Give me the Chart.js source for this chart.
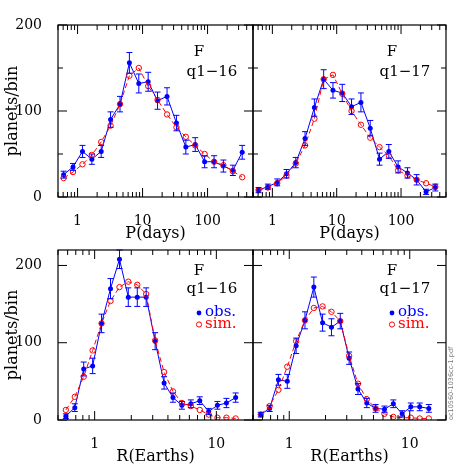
<!DOCTYPE html>
<html>
<head>
<meta charset="utf-8">
<script src="https://cdn.jsdelivr.net/npm/chart.js@4.4.0/dist/chart.umd.min.js"></script>
<style>
html, body { margin: 0; padding: 0; background: #fff; }
#wrap { position: relative; width: 471px; height: 471px; }
#wrap canvas { position: absolute; left: 0; top: 0; }
</style>
</head>
<body>
<div id="wrap">
  <canvas id="pTop16" width="471" height="471"></canvas>
  <canvas id="pTop17" width="471" height="471"></canvas>
  <canvas id="rBot16" width="471" height="471"></canvas>
  <canvas id="rBot17" width="471" height="471"></canvas>
</div>
<script>
// bin centres
const periodBins = [0.61, 0.851, 1.19, 1.66, 2.31, 3.22, 4.50, 6.27, 8.75, 12.2, 17.0, 23.8, 33.2, 46.3, 64.6, 90.1, 126, 175, 245, 341];
const radiusBins = [0.58, 0.687, 0.813, 0.963, 1.14, 1.35, 1.60, 1.89, 2.24, 2.65, 3.14, 3.72, 4.40, 5.21, 6.17, 7.31, 8.65, 10.2, 12.1, 14.4];

// period distribution, q1-16
const obsP16 = [26, 35, 53, 44, 53, 90, 108, 156, 132, 134, 112, 117, 86, 58, 61, 41, 41, 36, 31, 52];
const errP16 = [4, 4, 7, 6, 7, 9, 9, 12, 11, 11, 10, 10, 9, 8, 8, 7, 7, 7, 6, 8];
const simP16 = [22, 29, 38, 49, 64, 83, 108, 141, 150, 129, 113, 96, 81, 70, 60, 50, 41, 37, 30, 23];

// period distribution, q1-17
const obsP17 = [8, 12, 17, 27, 40, 68, 104, 137, 124, 121, 105, 110, 80, 44, 53, 35, 28, 20, 6, 11];
const errP17 = [3, 3, 4, 5, 6, 8, 10, 11, 9, 10, 9, 11, 9, 7, 8, 7, 6, 6, 3, 4];
const simP17 = [8, 11, 16, 25, 39, 60, 91, 137, 142, 120, 100, 84, 69, 58, 48, 31, 25, 20, 16, 12];

// radius distribution, q1-16
const obsR16 = [5, 16, 66, 70, 125, 170, 208, 159, 159, 159, 102, 48, 29, 19, 21, 25, 11, 19, 22, 29];
const errR16 = [3, 5, 9, 10, 12, 13, 12, 12, 12, 12, 11, 8, 6, 5, 5, 5, 4, 5, 6, 6];
const simR16 = [13, 30, 56, 90, 125, 154, 172, 179, 175, 163, 103, 62, 37, 22, 18, 13, 7, 3, 3, 2];

// radius distribution, q1-17
const obsR17 = [7, 15, 52, 50, 96, 129, 172, 126, 120, 128, 80, 40, 22, 15, 14, 21, 8, 17, 17, 15];
const errR17 = [3, 4, 7, 9, 10, 11, 13, 11, 11, 10, 8, 7, 6, 5, 4, 5, 4, 5, 5, 5];
const simR17 = [7, 18, 39, 69, 102, 129, 145, 147, 140, 128, 83, 47, 27, 15, 8, 4, 3, 3, 2, 2];

const periodTicks = [1, 10, 100];
const radiusTicks = [1, 10];
const countTicks = [0, 100, 200];

const FONT = "'DejaVu Serif', serif";
const BLUE = '#0000ff';
const RED = '#ff0000';

// frame, inward ticks, error bars and the panel texts
const panelDecor = {
  id: 'panelDecor',
  afterDatasetsDraw(chart) {
    const {ctx, scales: {x, y}} = chart;
    chart.data.datasets.forEach(ds => {
      if (!ds.errorBars) return;
      ctx.save();
      ctx.strokeStyle = ds.borderColor;
      ctx.lineWidth = 1;
      ds.data.forEach((p, i) => {
        const e = ds.errorBars[i];
        const px = x.getPixelForValue(p.x);
        const y1 = y.getPixelForValue(p.y - e);
        const y2 = y.getPixelForValue(p.y + e);
        ctx.beginPath();
        ctx.moveTo(px, y1); ctx.lineTo(px, y2);
        ctx.moveTo(px - 3, y1); ctx.lineTo(px + 3, y1);
        ctx.moveTo(px - 3, y2); ctx.lineTo(px + 3, y2);
        ctx.stroke();
      });
      ctx.restore();
    });
  },
  afterDraw(chart, args, opts) {
    const {ctx, chartArea: a, scales: {x, y}} = chart;
    ctx.save();
    ctx.strokeStyle = '#000';
    ctx.lineWidth = 1.2;
    ctx.strokeRect(a.left, a.top, a.right - a.left, a.bottom - a.top);

    ctx.lineWidth = 1;
    ctx.beginPath();
    // log x ticks, major at decades
    const e0 = Math.floor(Math.log10(x.min)), e1 = Math.ceil(Math.log10(x.max));
    for (let e = e0; e <= e1; e++) {
      for (let m = 1; m < 10; m++) {
        const v = m * Math.pow(10, e);
        if (v < x.min || v > x.max) continue;
        const px = x.getPixelForValue(v);
        const len = m === 1 ? 9 : 5;
        ctx.moveTo(px, a.bottom); ctx.lineTo(px, a.bottom - len);
        ctx.moveTo(px, a.top); ctx.lineTo(px, a.top + len);
      }
    }
    // y ticks
    for (let v = 0; v <= y.max; v += opts.yStep) {
      const py = y.getPixelForValue(v);
      const len = v % 100 === 0 ? 9 : 5;
      ctx.moveTo(a.left, py); ctx.lineTo(a.left + len, py);
      ctx.moveTo(a.right, py); ctx.lineTo(a.right - len, py);
    }
    ctx.stroke();

    // panel labels
    ctx.fillStyle = '#000';
    ctx.textBaseline = 'middle';
    ctx.textAlign = 'center';
    ctx.font = '15px ' + FONT;
    ctx.fillText('F', a.right - 54, a.top + opts.fY);
    ctx.fillText(opts.label, a.right - 41, a.top + opts.qY);

    if (opts.legend) {
      ctx.textAlign = 'left';
      ctx.fillStyle = BLUE;
      ctx.beginPath();
      ctx.arc(a.right - 54, a.top + 63, 2.4, 0, Math.PI * 2);
      ctx.fill();
      ctx.fillText('obs.', a.right - 48, a.top + 62);
      ctx.strokeStyle = RED;
      ctx.beginPath();
      ctx.arc(a.right - 54, a.top + 74.5, 2.6, 0, Math.PI * 2);
      ctx.stroke();
      ctx.fillStyle = RED;
      ctx.fillText('sim.', a.right - 48, a.top + 74);
    }
    if (opts.stamp) {
      ctx.save();
      ctx.translate(a.right + 5, a.bottom);
      ctx.rotate(-Math.PI / 2);
      ctx.fillStyle = '#777';
      ctx.font = "6.5px 'DejaVu Sans', sans-serif";
      ctx.textAlign = 'left';
      ctx.fillText(opts.stamp, 0, 0);
      ctx.restore();
    }
    ctx.restore();
  }
};

function makePanel(id, p) {
  const obsPts = p.bins.map((b, i) => ({x: b, y: p.obs[i]}));
  const simPts = p.bins.map((b, i) => ({x: b, y: p.sim[i]}));
  return new Chart(document.getElementById(id), {
    type: 'scatter',
    data: {
      datasets: [
        {
          label: 'sim.',
          data: simPts,
          showLine: true,
          borderColor: RED,
          borderWidth: 1,
          borderDash: [5, 3],
          pointRadius: 2.7,
          pointBorderWidth: 1,
          pointBorderColor: RED,
          pointBackgroundColor: 'rgba(0,0,0,0)'
        },
        {
          label: 'obs.',
          data: obsPts,
          errorBars: p.err,
          showLine: true,
          borderColor: BLUE,
          borderWidth: 1,
          pointRadius: 2.5,
          pointBorderWidth: 0,
          pointBackgroundColor: BLUE
        }
      ]
    },
    options: {
      responsive: false,
      animation: false,
      events: [],
      layout: {padding: p.padding},
      scales: {
        x: {
          type: 'logarithmic',
          min: p.xMin,
          max: p.xMax,
          grid: {display: false},
          border: {display: false},
          afterBuildTicks: s => { s.ticks = p.xTicks.map(v => ({value: v})); },
          afterFit: s => { s.height = 46; },
          ticks: {
            autoSkip: false, maxRotation: 0, padding: 8, color: '#000',
            font: {family: FONT, size: 14},
            callback: v => String(v)
          },
          title: {
            display: true, text: p.xTitle, color: '#000',
            font: {family: FONT, size: 16}, padding: {top: 0, bottom: 0}
          }
        },
        y: {
          type: 'linear',
          min: 0,
          max: p.yMax,
          grid: {display: false},
          border: {display: false},
          afterBuildTicks: s => { s.ticks = countTicks.map(v => ({value: v})); },
          afterFit: s => { s.width = p.showY ? 58 : 0; },
          ticks: {display: p.showY, padding: 8, color: '#000', font: {family: FONT, size: 14}},
          title: {
            display: p.showY, text: 'planets/bin', color: '#000',
            font: {family: FONT, size: 16}, padding: {top: 3, bottom: 0}
          }
        }
      },
      plugins: {
        legend: {display: false},
        tooltip: {enabled: false},
        panelDecor: {
          yStep: p.yStep, label: p.label, fY: p.fY, qY: p.qY,
          legend: p.legend, stamp: p.stamp
        }
      }
    },
    plugins: [panelDecor]
  });
}

makePanel('pTop16', {
  bins: periodBins, obs: obsP16, err: errP16, sim: simP16,
  xMin: 0.5, xMax: 500, xTicks: periodTicks, xTitle: 'P(days)',
  yMax: 200, yStep: 50, showY: true, label: 'q1\u221216', fY: 27, qY: 47,
  padding: {left: 0, top: 25, right: 218, bottom: 228}
});
makePanel('pTop17', {
  bins: periodBins, obs: obsP17, err: errP17, sim: simP17,
  xMin: 0.5, xMax: 500, xTicks: periodTicks, xTitle: 'P(days)',
  yMax: 200, yStep: 50, showY: false, label: 'q1\u221217', fY: 27, qY: 47,
  padding: {left: 253, top: 25, right: 25, bottom: 228}
});
makePanel('rBot16', {
  bins: radiusBins, obs: obsR16, err: errR16, sim: simR16,
  xMin: 0.5, xMax: 20, xTicks: radiusTicks, xTitle: 'R(Earths)',
  yMax: 220, yStep: 100, showY: true, label: 'q1\u221216', fY: 21, qY: 39, legend: true,
  padding: {left: 0, top: 250, right: 218, bottom: 5}
});
makePanel('rBot17', {
  bins: radiusBins, obs: obsR17, err: errR17, sim: simR17,
  xMin: 0.5, xMax: 20, xTicks: radiusTicks, xTitle: 'R(Earths)',
  yMax: 220, yStep: 100, showY: false, label: 'q1\u221217', fY: 21, qY: 39, legend: true,
  stamp: 'oc10560-1036cc-1.pdf',
  padding: {left: 253, top: 250, right: 25, bottom: 5}
});
</script>
</body>
</html>
